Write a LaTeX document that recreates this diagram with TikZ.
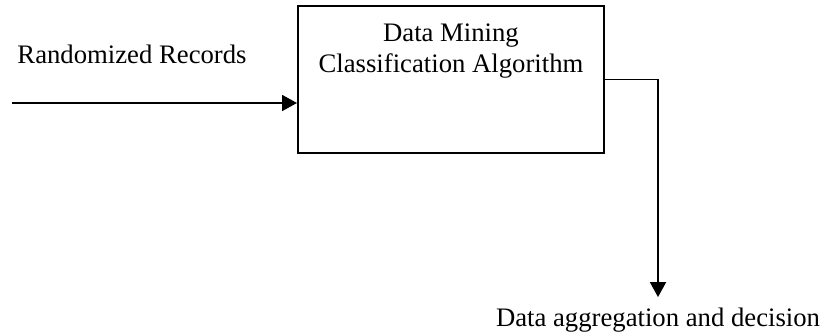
\documentclass[tikz,border=0pt]{standalone}
\usepackage{fontspec}
\setmainfont{Liberation Serif}
\usetikzlibrary{arrows.meta}

\begin{document}
\begin{tikzpicture}[
  x=0.5pt,y=-0.5pt,
  >={Triangle[length=7.5pt,width=8pt]},
  font=\fontsize{13.35}{15.5}\selectfont,
  block/.style={draw,line width=1pt,minimum width=153pt,minimum height=73.5pt,inner sep=0pt},
  caption/.style={inner sep=0pt,anchor=base,align=center},
  flow/.style={->,line width=0.9pt}
]
  \useasboundingbox (0,0) rectangle (822,336);
  \node[block] (algo) at (451,79.5) {};
  \node[caption,anchor=north] (algoname) at (451,23) {Data Mining\\Classification Algorithm};
  \node[caption] (records) at (132,64) {Randomized Records};
  \node[caption] (decision) at (658,326) {Data aggregation and decision};
  \coordinate (feed) at (12,103);

  \draw[flow] (feed) -- (feed -| algo.west);
  \draw[flow,shorten >=5pt] (algo.east) -| (decision.north);
\end{tikzpicture}
\end{document}
